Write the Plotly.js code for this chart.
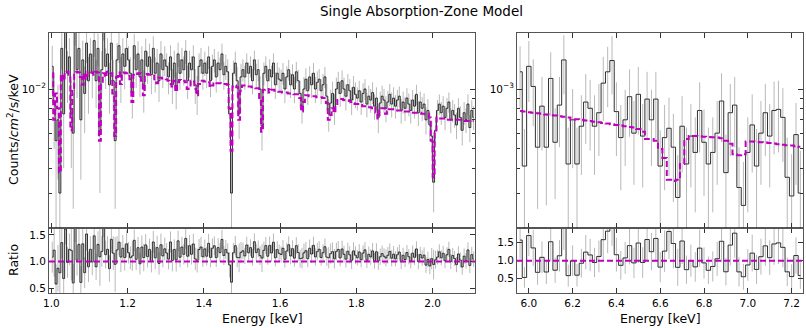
<!DOCTYPE html>
<html>
<head>
<meta charset="utf-8">
<script src="https://cdn.plot.ly/plotly-3.0.1.min.js"></script>
<style>
  html, body { margin: 0; padding: 0; background: #fff; }
  #chart { width: 806px; height: 328px; }
</style>
</head>
<body>
<div id="chart"></div>
<script>
// soft band: 1.0 - 2.11 keV, 0.005 keV bins, flux in units of 1e-4 counts/cm2/s/keV
const LO_E0 = 1.0, LO_DE = 0.005;
const loData = [
  130, 85, 55, 70, 30, 160, 75, 195, 120, 145, 75, 60, 200, 125, 160, 70, 140, 95, 170, 110,
  150, 120, 175, 110, 160, 60, 125, 205, 130, 150, 105, 170, 110, 55, 140, 165, 115, 150, 130, 160,
  140, 120, 95, 165, 125, 150, 115, 140, 100, 155, 130, 145, 118, 160, 120, 135, 110, 150, 125, 140,
  130, 115, 145, 105, 135, 100, 150, 120, 140, 125, 155, 110, 135, 125, 145, 105, 95, 130, 140, 120,
  135, 120, 145, 110, 130, 140, 115, 135, 125, 150, 118, 130, 122, 75, 30, 120, 135, 110, 75, 115,
  125, 115, 135, 120, 130, 110, 140, 118, 125, 100, 65, 120, 130, 110, 125, 115, 135, 105, 120, 112,
  110, 120, 100, 115, 125, 105, 118, 100, 122, 110, 95, 82, 100, 112, 98, 115, 105, 120, 100, 108,
  112, 98, 105, 115, 92, 75, 85, 95, 80, 100, 108, 95, 110, 100, 92, 105, 98, 88, 102, 94,
  90, 98, 86, 95, 100, 84, 92, 88, 96, 82, 90, 72, 85, 92, 88, 80, 86, 94, 84, 90,
  82, 88, 92, 78, 86, 80, 90, 84, 78, 88, 82, 94, 76, 86, 80, 84, 70, 78, 66, 58,
  34, 62, 78, 84, 76, 82, 72, 80, 86, 70, 78, 74, 66, 80, 72, 62, 76, 70, 84, 64, 78, 72
];
const loModel = [
  120, 70, 95, 80, 38, 118, 110, 121, 122, 118, 62, 100, 121, 122, 121, 115, 105, 120, 112, 122,
  122, 121, 118, 122, 121, 55, 105, 120, 115, 122, 121, 120, 95, 58, 115, 121, 106, 120, 121, 120,
  120, 112, 86, 118, 120, 119, 120, 110, 93, 118, 119, 118, 118, 117, 112, 107, 114, 114, 113, 113,
  112, 110, 106, 103, 110, 97, 108, 111, 110, 110, 108, 100, 104, 110, 109, 100, 93, 106, 110, 110,
  109, 109, 108, 102, 104, 108, 107, 107, 107, 106, 106, 106, 105, 80, 49, 103, 104, 102, 70, 98,
  104, 104, 103, 103, 103, 102, 102, 101, 101, 90, 61, 99, 100, 100, 96, 99, 99, 98, 98, 97,
  97, 96, 96, 96, 95, 95, 95, 94, 94, 94, 90, 77, 86, 93, 93, 92, 92, 92, 92, 91,
  91, 91, 90, 90, 85, 70, 74, 80, 76, 84, 88, 89, 89, 88, 88, 88, 87, 86, 85, 84,
  84, 83, 83, 82, 82, 82, 81, 81, 80, 81, 76, 71, 78, 80, 80, 75, 77, 79, 79, 79,
  78, 78, 78, 78, 77, 77, 77, 77, 77, 76, 76, 76, 76, 76, 75, 75, 75, 75, 72, 55,
  36, 60, 72, 71, 71, 71, 71, 71, 70, 70, 70, 70, 70, 70, 70, 69, 69, 69, 69, 69, 69, 69
];
// 1-sigma error per 0.1 keV block (same units)
const loErrBlock = [35, 30, 24, 21, 19, 16, 15, 14, 12, 11, 10, 10];

// Fe K band: 5.95 - 7.25 keV, 0.02 keV bins, flux in units of 1e-3 counts/cm2/s/keV
const HI_E0 = 5.95, HI_DE = 0.02;
const hiData = [
  1.22, 0.41, 1.30, 1.03, 0.51, 0.82, 0.51, 1.13, 0.54, 0.83,
  1.40, 0.42, 0.70, 0.42, 0.65, 0.86, 0.80, 0.65, 0.76, 1.07,
  1.22, 1.39, 0.77, 0.57, 0.70, 0.915, 0.60, 0.94, 0.58, 0.89,
  0.70, 0.89, 0.41, 0.57, 0.635, 0.51, 0.285, 0.65, 0.42, 0.58,
  0.48, 0.78, 0.54, 0.42, 0.48, 0.60, 0.87, 0.38, 0.76, 0.83,
  0.32, 0.26, 0.48, 0.66, 0.41, 0.60, 0.76, 0.58, 0.78, 0.79,
  0.72, 0.36, 0.29, 0.59, 0.30
];
const hiErr = [
  0.42, 0.22, 0.44, 0.38, 0.26, 0.33, 0.25, 0.40, 0.26, 0.32,
  0.46, 0.22, 0.30, 0.22, 0.28, 0.33, 0.31, 0.28, 0.30, 0.38,
  0.41, 0.45, 0.31, 0.26, 0.29, 0.34, 0.27, 0.35, 0.26, 0.33,
  0.29, 0.33, 0.21, 0.26, 0.27, 0.24, 0.18, 0.27, 0.22, 0.26,
  0.24, 0.30, 0.25, 0.22, 0.24, 0.27, 0.33, 0.21, 0.30, 0.32,
  0.19, 0.17, 0.24, 0.28, 0.22, 0.27, 0.30, 0.26, 0.31, 0.31,
  0.29, 0.21, 0.18, 0.26, 0.19
];
const hiModel = [
  0.775, 0.77, 0.765, 0.76, 0.755, 0.75, 0.745, 0.74, 0.735, 0.73,
  0.725, 0.72, 0.70, 0.705, 0.70, 0.695, 0.69, 0.685, 0.68, 0.675,
  0.67, 0.665, 0.66, 0.655, 0.65, 0.645, 0.64, 0.63, 0.61, 0.56,
  0.56, 0.55, 0.50, 0.45, 0.35, 0.345, 0.35, 0.42, 0.56, 0.58,
  0.58, 0.578, 0.576, 0.574, 0.572, 0.57, 0.565, 0.55, 0.53, 0.47,
  0.465, 0.47, 0.545, 0.545, 0.542, 0.54, 0.538, 0.535, 0.532, 0.528,
  0.525, 0.522, 0.52, 0.516, 0.513
];

const MAGENTA = "#bf00bf";
const FONT = "DejaVu Sans, sans-serif";
const W = 806, H = 328;
const px = x => x / W;
const py = y => (H - y) / H;

const centers = (e0, de, n) => Array.from({ length: n }, (_, i) => e0 + de * (i + 0.5));

const loE = centers(LO_E0, LO_DE, loData.length);
const loY = loData.map(v => v * 1e-4);
const loM = loModel.map(v => v * 1e-4);
const loErr = loData.map((_, i) => loErrBlock[Math.min(Math.floor(i / 20), loErrBlock.length - 1)] * 1e-4);
const loRatio = loY.map((v, i) => v / loM[i]);
const loRatioErr = loErr.map((e, i) => e / loM[i]);

const hiE = centers(HI_E0, HI_DE, hiData.length);
const hiY = hiData.map(v => v * 1e-3);
const hiM = hiModel.map(v => v * 1e-3);
const hiE2 = hiErr.map(v => v * 1e-3);
const hiRatio = hiY.map((v, i) => v / hiM[i]);
const hiRatioErr = hiE2.map((e, i) => e / hiM[i]);

function errTrace(x, y, err, xa, ya) {
  return {
    x, y, xaxis: xa, yaxis: ya, type: "scatter", mode: "markers",
    marker: { size: 1, opacity: 0 },
    error_y: { type: "data", array: err, color: "rgba(0,0,0,0.28)", thickness: 1, width: 0 },
    hoverinfo: "skip", showlegend: false
  };
}
function stepTrace(x, y, xa, ya) {
  return {
    x, y, xaxis: xa, yaxis: ya, type: "scatter", mode: "lines",
    line: { shape: "hvh", color: "rgba(20,20,20,0.88)", width: 1 },
    hoverinfo: "skip", showlegend: false
  };
}
function modelTrace(x, y, xa, ya) {
  return {
    x, y, xaxis: xa, yaxis: ya, type: "scatter", mode: "lines",
    line: { shape: "hvh", color: MAGENTA, width: 2, dash: "6px,3px" },
    hoverinfo: "skip", showlegend: false
  };
}

const traces = [
  errTrace(loE, loY, loErr, "x2", "y2"),
  stepTrace(loE, loY, "x2", "y2"),
  modelTrace(loE, loM, "x2", "y2"),
  errTrace(loE, loRatio, loRatioErr, "x", "y"),
  stepTrace(loE, loRatio, "x", "y"),
  errTrace(hiE, hiY, hiE2, "x4", "y4"),
  stepTrace(hiE, hiY, "x4", "y4"),
  modelTrace(hiE, hiM, "x4", "y4"),
  errTrace(hiE, hiRatio, hiRatioErr, "x3", "y3"),
  stepTrace(hiE, hiRatio, "x3", "y3")
];

const axBase = {
  showline: true, linecolor: "#555", linewidth: 1, mirror: "allticks",
  ticks: "inside", ticklen: 5, tickwidth: 1, tickcolor: "#333",
  showgrid: false, zeroline: false,
  tickfont: { family: FONT, size: 10.5, color: "#000" }
};

const leftDom = [px(49), px(475)];
const rightDom = [px(517), px(803)];
const topDom = [py(228), py(33)];
const botDom = [py(293), py(228)];

const layout = {
  width: W, height: H,
  margin: { l: 0, r: 0, t: 0, b: 0 },
  paper_bgcolor: "#fff", plot_bgcolor: "#fff",
  hovermode: false,
  font: { family: FONT, color: "#000" },
  xaxis: { ...axBase, domain: leftDom, anchor: "y", range: [0.994, 2.111], tick0: 1.0, dtick: 0.2, tickformat: ".1f" },
  xaxis2: { ...axBase, domain: leftDom, anchor: "y2", matches: "x", range: [0.994, 2.111], tick0: 1.0, dtick: 0.2, showticklabels: false },
  yaxis: { ...axBase, domain: botDom, anchor: "x", range: [0.41, 1.63], tickvals: [0.5, 1.0, 1.5], ticktext: ["0.5", "1.0", "1.5"] },
  yaxis2: {
    ...axBase, domain: topDom, anchor: "x2", type: "log", range: [-2.6985, -1.7186],
    tickvals: [0.01], ticktext: ["10<sup>\u22122</sup>"],
    minor: { tickvals: [0.003, 0.004, 0.005, 0.006, 0.007, 0.008, 0.009], ticks: "inside", ticklen: 3, tickcolor: "#333" }
  },
  xaxis3: { ...axBase, domain: rightDom, anchor: "y3", range: [5.946, 7.252], tick0: 6.0, dtick: 0.2, tickformat: ".1f" },
  xaxis4: { ...axBase, domain: rightDom, anchor: "y4", matches: "x3", range: [5.946, 7.252], tick0: 6.0, dtick: 0.2, showticklabels: false },
  yaxis3: { ...axBase, domain: botDom, anchor: "x3", range: [0.1, 1.91], tickvals: [0.5, 1.0, 1.5], ticktext: ["0.5", "1.0", "1.5"] },
  yaxis4: {
    ...axBase, domain: topDom, anchor: "x4", type: "log", range: [-3.6985, -2.7186],
    tickvals: [0.001], ticktext: ["10<sup>\u22123</sup>"],
    minor: { tickvals: [0.0003, 0.0004, 0.0005, 0.0006, 0.0007, 0.0008, 0.0009], ticks: "inside", ticklen: 3, tickcolor: "#333" }
  },
  shapes: [
    { type: "line", xref: "x domain", yref: "y", x0: 0, x1: 1, y0: 1, y1: 1, line: { color: MAGENTA, width: 2, dash: "6px,3px" } },
    { type: "line", xref: "x3 domain", yref: "y3", x0: 0, x1: 1, y0: 1, y1: 1, line: { color: MAGENTA, width: 2, dash: "6px,3px" } }
  ],
  annotations: [
    { text: "Single Absorption-Zone Model", xref: "paper", yref: "paper", x: px(318), y: py(11), xanchor: "left", yanchor: "middle", showarrow: false, font: { size: 13.5 } },
    { text: "Counts/<i>cm</i><sup>2</sup>/s/keV", xref: "paper", yref: "paper", x: px(13), y: py(130), textangle: -90, xanchor: "center", yanchor: "middle", showarrow: false, font: { size: 12.5 } },
    { text: "Ratio", xref: "paper", yref: "paper", x: px(13), y: py(260), textangle: -90, xanchor: "center", yanchor: "middle", showarrow: false, font: { size: 12.5 } },
    { text: "Energy [keV]", xref: "paper", yref: "paper", x: px(262), y: py(318), xanchor: "center", yanchor: "middle", showarrow: false, font: { size: 12.5 } },
    { text: "Energy [keV]", xref: "paper", yref: "paper", x: px(660), y: py(318), xanchor: "center", yanchor: "middle", showarrow: false, font: { size: 12.5 } }
  ]
};

Plotly.newPlot("chart", traces, layout, { displayModeBar: false, staticPlot: true });
</script>
</body>
</html>
